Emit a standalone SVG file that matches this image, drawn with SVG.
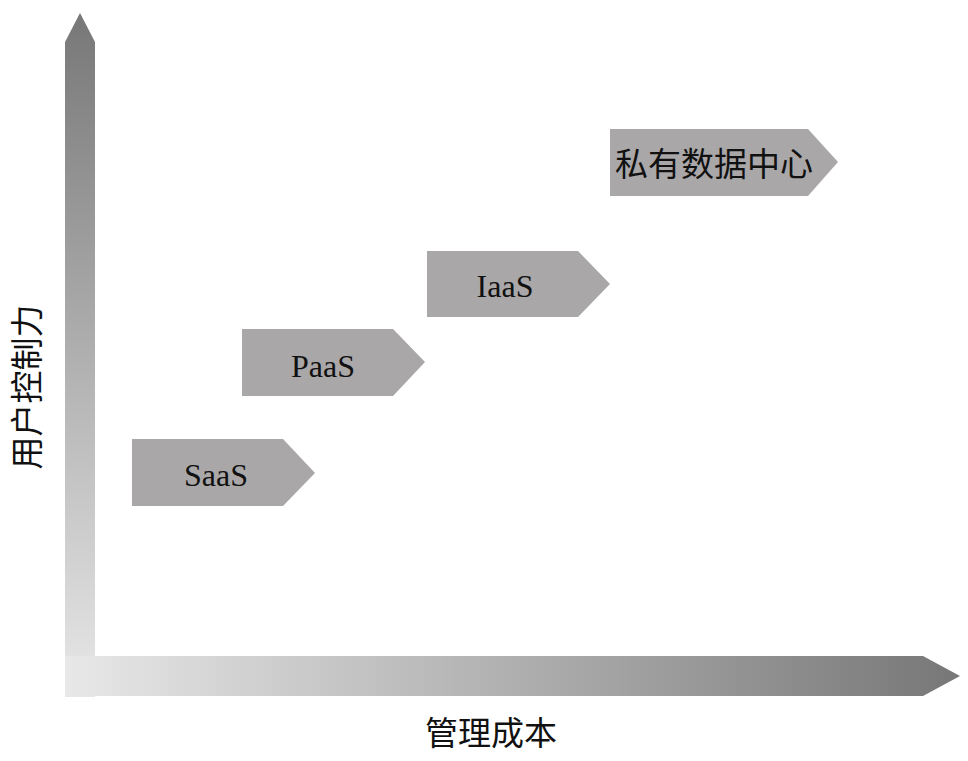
<svg xmlns="http://www.w3.org/2000/svg" width="968" height="761" viewBox="0 0 968 761">
<defs>
<linearGradient id="gv" gradientUnits="userSpaceOnUse" x1="0" y1="13" x2="0" y2="697">
<stop offset="0" stop-color="#777777"/>
<stop offset="1" stop-color="#e8e8e8"/>
</linearGradient>
<linearGradient id="gh" gradientUnits="userSpaceOnUse" x1="65" y1="0" x2="960" y2="0">
<stop offset="0" stop-color="#e8e8e8"/>
<stop offset="1" stop-color="#777777"/>
</linearGradient>
<style>
.node{fill:#a9a7a8;}
.lat{font-family:"Liberation Serif","Times New Roman",serif;font-size:32px;fill:#111;text-anchor:middle;}
.cjk{font-family:"Noto Sans CJK SC","Noto Sans CJK JP",sans-serif;font-size:33px;fill:#111;text-anchor:middle;}
</style>
</defs>
<rect width="968" height="761" fill="#ffffff"/>
<g id="axes">
<polygon points="65,42 80,13 95,42 95,697 65,697" fill="url(#gv)"/>
<polygon points="65,656 923,656 960,676 923,696 65,696" fill="url(#gh)"/>
</g>
<g id="node-saas">
<polygon class="node" points="132,439 283,439 315,473 283,506 132,506"/>
<text class="lat" x="216" y="486">SaaS</text>
</g>
<g id="node-paas">
<polygon class="node" points="242,329 393,329 425,362 393,396 242,396"/>
<text class="lat" x="323" y="377">PaaS</text>
</g>
<g id="node-iaas">
<polygon class="node" points="427,251 578,251 610,284 578,317 427,317"/>
<text class="lat" x="505" y="297">IaaS</text>
</g>
<g id="node-private-dc">
<polygon class="node" points="610,129 808,129 838,162 808,196 610,196"/>
<text class="cjk" x="714" y="176" font-size="34">私有数据中心</text>
</g>
<g id="label-x">
<text class="cjk" x="491" y="745">管理成本</text>
</g>
<g id="label-y">
<text class="cjk" transform="translate(27,387) rotate(-90)" x="0" y="12" font-size="34">用户控制力</text>
</g>
</svg>
